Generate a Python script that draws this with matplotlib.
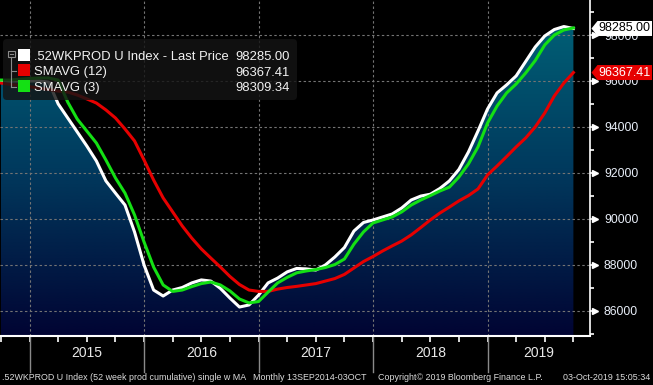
import numpy as np
import pandas as pd
import matplotlib
matplotlib.use("Agg")
import matplotlib.pyplot as plt
import matplotlib.transforms as mtransforms
from matplotlib.colors import LinearSegmentedColormap
from matplotlib.patches import Polygon, FancyBboxPatch, Rectangle
from matplotlib.lines import Line2D

# ---------------- data ----------------
months = pd.period_range("2014-10", "2019-10", freq="M")

last_price = [96000, 96000, 96000, 96000, 96000, 95950, 95000, 94390, 93780, 93170,
              92520, 91650, 91120, 90600, 89430, 87990, 86900, 86640, 86900, 87010,
              87210, 87340, 87290, 86970, 86550, 86160, 86250, 86680, 87210, 87420,
              87690, 87840, 87820, 87770, 87990, 88340, 88750, 89470, 89840, 89950,
              90080, 90210, 90470, 90820, 90990, 91070, 91320, 91650, 92150, 92910,
              93820, 94780, 95480, 95830, 96220, 96850, 97480, 97960, 98240, 98370,
              98285.00]

smavg_12 = [95910, 95850, 95800, 95750, 95690, 95630, 95560, 95520, 95390, 95220,
            95040, 94740, 94390, 93910, 93390, 92560, 91690, 90910, 90300, 89690,
            89160, 88690, 88290, 87900, 87490, 87140, 86900, 86840, 86840, 86940,
            87010, 87060, 87120, 87180, 87290, 87400, 87580, 87860, 88140, 88360,
            88600, 88820, 89030, 89300, 89620, 89950, 90250, 90510, 90780, 91010,
            91300, 91910, 92300, 92710, 93130, 93520, 94000, 94610, 95350, 95910,
            96367.41]

smavg_3 = [96040, 96040, 96080, 96110, 96130, 96130, 96040, 95080, 94340, 93820,
           93300, 92560, 91780, 91120, 90170, 88990, 87900, 87120, 86840, 86900,
           87050, 87180, 87250, 87120, 86860, 86510, 86340, 86400, 86810, 87210,
           87450, 87650, 87730, 87790, 87880, 88010, 88250, 88900, 89430, 89820,
           89950, 90080, 90300, 90600, 90820, 91010, 91210, 91380, 91820, 92390,
           93130, 94170, 94910, 95480, 95870, 96350, 96890, 97570, 98000, 98220,
           98309.34]

year_labels = ["2015", "2016", "2017", "2018", "2019"]
y_major = [86000, 88000, 90000, 92000, 94000, 96000, 98000]
y_minor = [85000, 87000, 89000, 91000, 93000, 95000, 97000, 99000]
legend_names = [".52WKPROD U Index - Last Price", "SMAVG (12)", "SMAVG (3)"]
legend_values = ["98285.00", "96367.41", "98309.34"]
last_labels = ["98285.00", "96367.41"]
footer_texts = [".52WKPROD U Index (52 week prod cumulative) single w MA",
                "Monthly 13SEP2014-03OCT",
                "Copyright\u00a9 2019 Bloomberg Finance L.P.",
                "03-Oct-2019 15:05:34"]

WHITE = "#ffffff"
RED = "#e60000"
GREEN = "#14e014"
FONT = "Liberation Sans"

# ---------------- figure ----------------
W, H = 653, 385
fig = plt.figure(figsize=(W / 100, H / 100), dpi=100, facecolor="black")
ax = fig.add_axes([0, 1 - 336 / H, 590 / W, 336 / H])
ax.set_facecolor("black")

x = np.asarray((months.year - 2015) * 12 + (months.month - 1), dtype=float)
XMIN, XMAX = -3.10, 58.74
YMIN, YMAX = 84899, 99525

# gradient area under the last price
cmap = LinearSegmentedColormap.from_list("bb", ["#010433", "#013a5e", "#006579"])
grad = np.linspace(0, 1, 256).reshape(-1, 1)
im = ax.imshow(grad, extent=[XMIN, XMAX, YMIN, YMAX], origin="lower",
               aspect="auto", cmap=cmap, zorder=1, interpolation="bilinear")
poly = ax.fill_between(x, last_price, YMIN, facecolor="none", edgecolor="none")
im.set_clip_path(poly.get_paths()[0], transform=ax.transData)
ax.set_xlim(XMIN, XMAX)
ax.set_ylim(YMIN, YMAX)

# grid
year_starts = [0, 12, 24, 36, 48]
for v in y_major:
    ax.axhline(v, color="#747474", lw=0.8, ls=(0, (2.2, 2.2)), zorder=2)
for xs in year_starts:
    ax.axvline(xs, color="#747474", lw=0.8, ls=(0, (2.2, 2.2)), zorder=2)

# series
ax.plot(x, last_price, color=WHITE, lw=2.2, zorder=4)
ax.plot(x, smavg_12, color=RED, lw=2.2, zorder=5)
ax.plot(x, smavg_3, color=GREEN, lw=2.2, zorder=6)

# axes styling
for s in ["top", "left"]:
    ax.spines[s].set_visible(False)
ax.spines["right"].set_color("white")
ax.spines["right"].set_linewidth(1.2)
ax.spines["bottom"].set_color("white")
ax.spines["bottom"].set_linewidth(1.5)
ax.set_xticks(np.arange(-3, 58, 3))
ax.set_xticklabels([])
ax.tick_params(axis="x", direction="out", length=4, width=1.2, color="white")
ax.yaxis.tick_right()
ax.set_yticks(y_major)
ax.set_yticklabels([str(v) for v in y_major])
ax.set_yticks(y_minor, minor=True)
ax.tick_params(axis="y", which="major", length=3, width=1.2, color="white",
               pad=7, labelsize=8.8, labelcolor="#e8eef8")
ax.tick_params(axis="y", which="minor", length=3, width=1.2, color="white")
for lab in ax.get_yticklabels():
    lab.set_fontfamily(FONT)

tri_t = mtransforms.blended_transform_factory(ax.transAxes, ax.transData) + \
    mtransforms.ScaledTranslation(5 / 100, 0, fig.dpi_scale_trans)
ax.plot([1] * len(y_major), y_major, ls="none", marker=">", ms=5, color="white",
        mec="white", transform=tri_t, clip_on=False, zorder=7)

# year separators & labels
sep_t = mtransforms.blended_transform_factory(ax.transData, ax.transAxes)
for xs in year_starts:
    ax.plot([xs, xs], [0, -36 / 336], color="#8a8a8a", lw=1, transform=sep_t,
            clip_on=False)
for i, lab in enumerate(year_labels):
    start = year_starts[i]
    end = min(start + 12, XMAX)
    ax.text((start + end) / 2, -17 / 336, lab, transform=sep_t, ha="center",
            va="center", color="#e8e8e8", fontsize=10, family=FONT)

# pixel transform (y down from top)
pxT = mtransforms.Affine2D().scale(1, -1).translate(0, H)
ident = mtransforms.IdentityTransform()

# legend
fig.add_artist(FancyBboxPatch((3, 39), 294, 61, boxstyle="round,pad=0,rounding_size=4",
                              transform=pxT, facecolor="#141414", alpha=0.82,
                              edgecolor="none", zorder=10))
fig.add_artist(Rectangle((8, 50.5), 6.5, 6.5, transform=pxT, facecolor="none",
                         edgecolor="#8a8a8a", lw=0.8, zorder=11))
fig.add_artist(Line2D([9.6, 12.9], [53.8, 53.8], transform=pxT, color="#8a8a8a",
                      lw=0.8, zorder=11))
fig.add_artist(Line2D([11.2, 11.2], [57, 87], transform=pxT, color="#8a8a8a",
                      lw=0.8, zorder=11))
for yy in [71, 87]:
    fig.add_artist(Line2D([11.2, 16], [yy, yy], transform=pxT, color="#8a8a8a",
                          lw=0.8, zorder=11))
sq_cols = [WHITE, RED, GREEN]
sq_tops = [48.5, 63.5, 79.5]
baselines = [60, 75.5, 91]
for c, t, b, name, val in zip(sq_cols, sq_tops, baselines, legend_names, legend_values):
    fig.add_artist(Rectangle((18, t), 12, 12, transform=pxT, facecolor=c,
                             edgecolor="none", zorder=11))
    fig.text(34, b, name, transform=pxT, color="#f2f2f2", fontsize=9.4,
             family=FONT, va="baseline", ha="left", zorder=12)
    fig.text(290, b, val, transform=pxT, color="#f2f2f2", fontsize=9.4,
             family=FONT, va="baseline", ha="right", zorder=12)

# last-value boxes
def value_box(v, text, face, tcolor):
    xd, yd = ax.transData.transform((XMAX, v))
    x0 = xd + 1.5
    h = 7.5
    verts = [(x0, yd), (x0 + 6, yd + h), (652, yd + h), (652, yd - h), (x0 + 6, yd - h)]
    fig.add_artist(Polygon(verts, closed=True, transform=ident, facecolor=face,
                           edgecolor="none", zorder=13))
    fig.text((x0 + 6 + 652) / 2, yd, text, transform=ident, color=tcolor,
             fontsize=9, family=FONT, ha="center", va="center", zorder=14)

value_box(last_price[-1], last_labels[0], WHITE, "black")
value_box(smavg_12[-1], last_labels[1], RED, "white")

# footer
fy = 378
fs = 6.4
fig.text(2, fy, footer_texts[0], transform=pxT, color="#dcdcdc", fontsize=fs,
         family=FONT, va="center", ha="left")
fig.text(253, fy, footer_texts[1], transform=pxT, color="#dcdcdc", fontsize=fs,
         family=FONT, va="center", ha="left")
fig.text(378, fy, footer_texts[2], transform=pxT, color="#dcdcdc", fontsize=fs,
         family=FONT, va="center", ha="left")
fig.text(650, fy, footer_texts[3], transform=pxT, color="#dcdcdc", fontsize=fs,
         family=FONT, va="center", ha="right")

fig.savefig("out.png", dpi=100, facecolor="black")
